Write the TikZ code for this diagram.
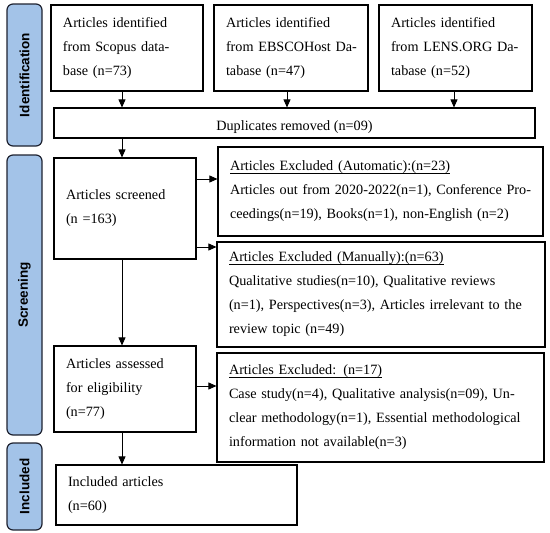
\documentclass[tikz,border=0pt]{standalone}
\usepackage{fontspec}
\setmainfont{Liberation Serif}
\newfontfamily\sidefont{Liberation Sans}
\usetikzlibrary{arrows.meta}
\definecolor{sidefill}{HTML}{A3C3E8}
\definecolor{sideline}{HTML}{1E2230}
\newcommand\myul[1]{\setbox0\hbox{#1}\rlap{\rule[-2.4pt]{\wd0}{0.6pt}}\box0}
\begin{document}
\begin{tikzpicture}[x=1pt,y=-1pt,
  box/.style={draw, line width=1.1pt, inner xsep=12pt, inner ysep=2pt, align=left,
    font=\fontsize{14.2}{24}\selectfont},
  side/.style={draw=sideline, fill=sidefill, line width=1.2pt, rounded corners=6pt,
    rotate=90, minimum height=35pt, inner sep=0pt,
    font=\sidefont\bfseries\fontsize{13.5}{16}\selectfont},
  arr/.style={line width=0.8pt, -{Triangle[width=7pt,length=8pt]}}]
\useasboundingbox (0,0) rectangle (550,533);
% side bars
\node[side, minimum width=142pt] (idbar) at (24.5,75) {Identification};
\node[side, minimum width=280pt] (scbar) at (24.5,295) {Screening};
\node[side, minimum width=87pt] (inbar) at (24.5,486.5) {Included};
% identification boxes
\node[box, text width=128pt, minimum width=152pt, minimum height=86pt] (scopus) at (127,48)
  {\mbox{Articles identified}\\\mbox{from Scopus data-}\\\mbox{base (n=73)}};
\node[box, text width=130pt, minimum width=154pt, minimum height=86pt] (ebsco) at (291,48)
  {\mbox{Articles identified}\\\mbox{from EBSCOHost Da-}\\\mbox{tabase (n=47)}};
\node[box, text width=129pt, minimum width=153pt, minimum height=86pt] (lens) at (455.5,48)
  {\mbox{Articles identified}\\\mbox{from LENS.ORG Da-}\\\mbox{tabase (n=52)}};
\node[box, minimum width=481pt, minimum height=30pt] (dup) at (294.5,123) {};
\node[font=\fontsize{14.2}{24}\selectfont, inner sep=0pt] (dupt) at (294.5,127) {Duplicates removed (n=09)};
% screening
\node[box, text width=118pt, minimum width=142pt, minimum height=101pt] (screened) at (125,208.5)
  {\mbox{Articles screened}\\\mbox{(n =163)}};
\node[box, text width=301pt, minimum width=325pt, minimum height=89pt] (auto) at (380.5,191.5)
  {\myul{Articles Excluded (Automatic):(n=23)}\\\mbox{Articles out from 2020-2022(n=1), Conference Pro-}\\\mbox{ceedings(n=19), Books(n=1), non-English (n=2)}};
\node[box, text width=304pt, minimum width=328pt, minimum height=105pt] (manual) at (381,294.5)
  {\myul{Articles Excluded (Manually):(n=63)}\\\mbox{Qualitative studies(n=10), Qualitative reviews}\\\mbox{(n=1), Perspectives(n=3), Articles irrelevant to the}\\\mbox{review topic (n=49)}};
\node[box, text width=118pt, minimum width=142pt, minimum height=86pt] (assessed) at (125,389)
  {\mbox{Articles assessed}\\\mbox{for eligibility}\\\mbox{(n=77)}};
\node[box, text width=303pt, minimum width=327pt, minimum height=109pt] (excl) at (380.5,407.5)
  {\myul{Articles Excluded: (n=17)}\\\mbox{Case study(n=4), Qualitative analysis(n=09), Un-}\\\mbox{clear methodology(n=1), Essential methodological}\\\mbox{information not available(n=3)}};
% included
\node[box, text width=217pt, minimum width=241pt, minimum height=60pt] (incl) at (176.5,495)
  {\mbox{Included articles}\\\mbox{(n=60)}};
% connectors
\coordinate (xa) at (122,0);
\coordinate (xb) at (287,0);
\coordinate (xc) at (454,0);
\coordinate (ya) at (0,179);
\coordinate (yb) at (0,247);
\coordinate (yc) at (0,386);
\draw[arr] (scopus.south -| xa) -- (dup.north -| xa);
\draw[arr] (ebsco.south -| xb) -- (dup.north -| xb);
\draw[arr] (lens.south -| xc) -- (dup.north -| xc);
\draw[arr] (dup.south -| xa) -- (screened.north -| xa);
\draw[arr] (screened.east |- ya) -- (auto.west |- ya);
\draw[arr] (screened.east |- yb) -- (manual.west |- yb);
\draw[arr] (screened.south -| xa) -- (assessed.north -| xa);
\draw[arr] (assessed.east |- yc) -- (excl.west |- yc);
\draw[arr] (assessed.south -| xa) -- (incl.north -| xa);
\end{tikzpicture}
\end{document}
